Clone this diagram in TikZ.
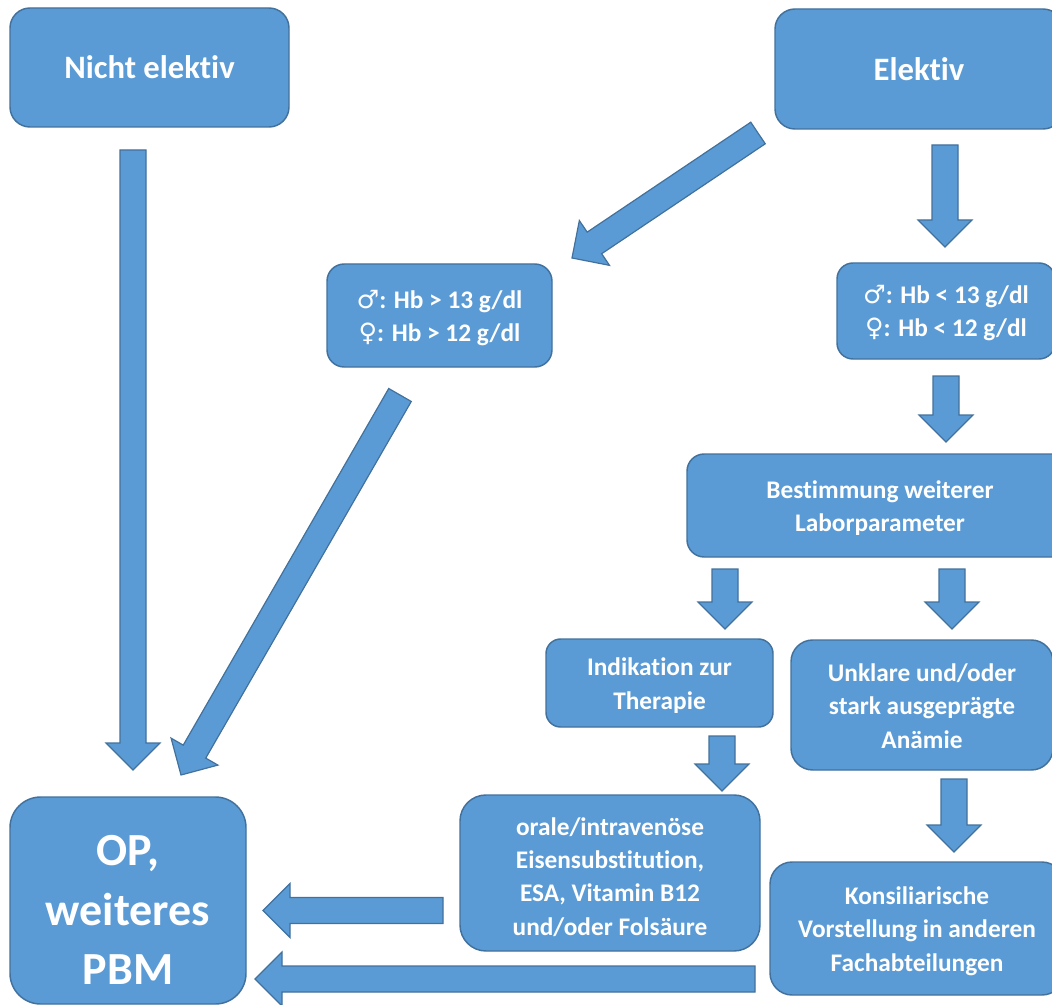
\documentclass[tikz,border=0pt]{standalone}
\usepackage{fontspec}
\setmainfont{Carlito}[Ligatures=NoCommon]
\newfontfamily\gsym{DejaVu Sans}
\usetikzlibrary{calc}
\definecolor{boxblue}{HTML}{5B9BD5}
\definecolor{boxedge}{HTML}{41719C}
\newcommand\blockarrow[2]{%
	\coordinate (ahb) at ($(#2)!20.25pt!(#1)$);
	\filldraw[arr] ($(#1)!9.75pt!90:(#2)$) -- ($(ahb)!9.75pt!90:(#2)$) -- ($(ahb)!20.25pt!90:(#2)$) -- (#2)
		-- ($(ahb)!20.25pt!-90:(#2)$) -- ($(ahb)!9.75pt!-90:(#2)$) -- ($(#1)!9.75pt!-90:(#2)$) -- cycle;
}
\begin{document}
\begin{tikzpicture}[
x=0.75pt,y=-0.75pt,
box/.style={draw=boxedge,fill=boxblue,line width=1.1pt,text=white,align=center,inner sep=0pt},
sz/.style 2 args={minimum width=#1*0.75pt,minimum height=#2*0.75pt},
bigtxt/.style={font=\fontsize{24.5}{30}\selectfont\bfseries},
midtxt/.style={font=\fontsize{19}{25}\selectfont\bfseries},
optxt/.style={font=\fontsize{34.5}{44.5}\selectfont\bfseries},
arr/.style={draw=boxedge,fill=boxblue,line width=0.9pt,line join=miter}
]
\useasboundingbox (0,0) rectangle (1052,1005);
\clip (0,0) rectangle (1052,1005);
\node[box,bigtxt,sz={279}{119},rounded corners=15pt] (nichtel) at (149.5,67.5) {Nicht elektiv};
\node[box,bigtxt,sz={288}{120},rounded corners=15pt] (elektiv) at (919,69) {Elektiv};
\node[box,midtxt,sz={225}{103},rounded corners=12.9pt] (hbgt) at (439.5,315.5) {\rule{0pt}{17pt}{\gsym ♂}: Hb > 13 g/dl\\{\gsym ♀}: Hb > 12 g/dl};
\node[box,midtxt,sz={218}{96},rounded corners=12pt] (hblt) at (946,311) {\rule{0pt}{17pt}{\gsym ♂}: Hb < 13 g/dl\\{\gsym ♀}: Hb < 12 g/dl};
\node[box,midtxt,sz={386}{103},rounded corners=12.9pt] (bestimm) at (880,505.5) {\rule{0pt}{17pt}Bestimmung weiterer\\Laborparameter};
\node[box,midtxt,sz={227}{88},rounded corners=11pt] (indik) at (659.5,683) {\rule{0pt}{17pt}Indikation zur\\Therapie};
\node[box,midtxt,sz={262}{130},rounded corners=16.3pt] (unklar) at (922,705) {\rule{0pt}{15pt}Unklare und/oder\\stark ausgeprägte\\Anämie};
\node[box,midtxt,sz={300}{156},rounded corners=19.5pt] (orale) at (610,873) {\rule{0pt}{19pt}orale/intravenöse\\Eisensubstitution,\\ESA, Vitamin B12\\und/oder Folsäure};
\node[box,midtxt,sz={294}{133},rounded corners=16.6pt] (konsil) at (917,928.5) {\rule{0pt}{17pt}Konsiliarische\\Vorstellung in anderen\\Fachabteilungen};
\node[box,optxt,sz={236}{207},rounded corners=23pt] (op) at (128,900.5) {\rule{0pt}{37pt}OP,\\weiteres\\PBM};
\coordinate (n1s) at (133,150); \coordinate (n1e) at (133,770);
\coordinate (e1s) at (758,133); \coordinate (e1e) at (572,258);
\coordinate (e2s) at (945,145); \coordinate (e2e) at (945,247);
\coordinate (g1s) at (400,395); \coordinate (g1e) at (181,775);
\coordinate (l1s) at (946,376); \coordinate (l1e) at (946,442);
\coordinate (b1s) at (725,569); \coordinate (b1e) at (725,629);
\coordinate (b2s) at (952,569); \coordinate (b2e) at (952,629);
\coordinate (i1s) at (722,736); \coordinate (i1e) at (722,791);
\coordinate (u1s) at (954,779); \coordinate (u1e) at (954,852);
\coordinate (o1s) at (443,910.5); \coordinate (o1e) at (263,910.5);
\coordinate (k1s) at (755,979); \coordinate (k1e) at (255,979);
\blockarrow{n1s}{n1e}
\blockarrow{e1s}{e1e}
\blockarrow{e2s}{e2e}
\blockarrow{g1s}{g1e}
\blockarrow{l1s}{l1e}
\blockarrow{b1s}{b1e}
\blockarrow{b2s}{b2e}
\blockarrow{i1s}{i1e}
\blockarrow{u1s}{u1e}
\blockarrow{o1s}{o1e}
\blockarrow{k1s}{k1e}
\end{tikzpicture}
\end{document}
